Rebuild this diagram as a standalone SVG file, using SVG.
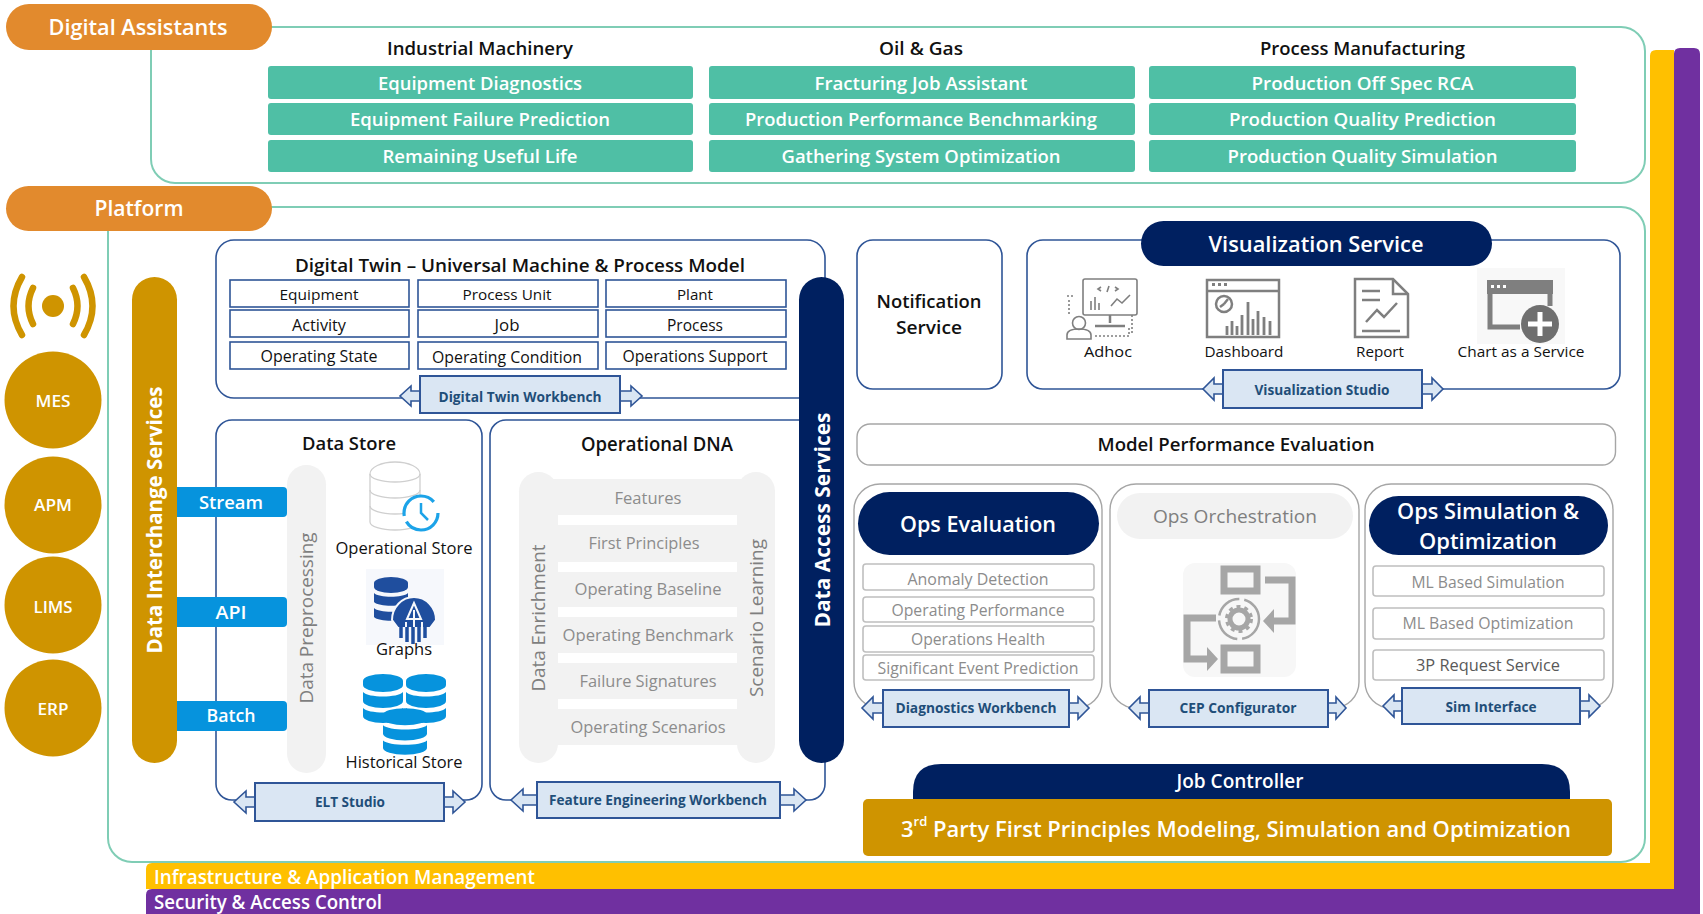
<svg xmlns="http://www.w3.org/2000/svg" width="1703" height="914" viewBox="0 0 1703 914">
<style>
text{font-family:"Open Sans","Liberation Sans",sans-serif;text-anchor:middle;dominant-baseline:central}
.w{fill:#fff}.sb{font-weight:600}.b{font-weight:700}
.k{fill:#111}.g{fill:#8c8c8c}.g2{fill:#7f7f7f}.bl{fill:#1F4E79;font-weight:700;font-size:14px}
.f{fill:#fff;stroke:#7FCDB5;stroke-width:2}
.pill{fill:#E28A2D}
.bar{fill:#4FBFA5}
.box{fill:#fff;stroke:#2F5597;stroke-width:1.6}
.cell{fill:#fff;stroke:#2F5597;stroke-width:1.6}
.gb{fill:#fff;stroke:#A6A6A6;stroke-width:1.4}
.it{fill:#fff;stroke:#BFBFBF;stroke-width:1.6}
.wb{fill:#DAE6F3;stroke:#2F5597;stroke-width:2}
.arr{fill:#DAE6F3;stroke:#2F5597;stroke-width:1.6}
.navy{fill:#002060}.gold{fill:#CF9400}.blue{fill:#0693DD}.lg{fill:#F2F2F2}
.ic{fill:none;stroke:#7F7F7F;stroke-width:2.5}
.icf{fill:#7F7F7F}
</style>
<defs>
<g id="stack"><path d="M-20-16a20 7 0 0 1 40 0v4a20 7 0 0 1-40 0z"/><path d="M-20-5c5 6 35 6 40 0v9a20 7 0 0 1-40 0z"/><path d="M-20 11c5 6 35 6 40 0v8a20 7 0 0 1-40 0z"/></g>
</defs>
<rect width="1703" height="914" fill="#fff"/>

<g id="band-infrastructure">
<path d="M146 869q0-6 6-6H1650V56q0-6 6-6h18V889H146z" fill="#FFC000"/>
<text class="w sb" x="344.500" y="877" font-size="19" textLength="381" lengthAdjust="spacingAndGlyphs">Infrastructure &amp; Application Management</text>
</g>
<g id="band-security">
<path d="M146 895q0-6 6-6H1674V54q0-6 6-6h14q6 0 6 6V914H146z" fill="#7030A0"/>
<text class="w sb" x="268" y="902" font-size="19" textLength="228" lengthAdjust="spacingAndGlyphs">Security &amp; Access Control</text>
</g>

<g id="frame-digital-assistants"><rect class="f" x="151" y="27" width="1494" height="156" rx="24"/></g>
<g id="frame-platform"><rect class="f" x="108" y="207" width="1537" height="655" rx="24"/></g>

<g id="digital-assistants"><rect class="pill" x="6" y="4" width="266" height="46" rx="23"/><text class="w sb" x="138" y="27" font-size="21" textLength="179" lengthAdjust="spacingAndGlyphs">Digital Assistants</text></g>
<g id="platform"><rect class="pill" x="6" y="186" width="266" height="45" rx="22.500"/><text class="w sb" x="139" y="208" font-size="21" textLength="89" lengthAdjust="spacingAndGlyphs">Platform</text></g>

<g id="industrial-machinery">
<text class="k sb" x="480" y="48" font-size="18" textLength="186" lengthAdjust="spacingAndGlyphs">Industrial Machinery</text>
<rect class="bar" x="268" y="66" width="425" height="33" rx="3"/><text class="w sb" x="480" y="83" font-size="18" textLength="204" lengthAdjust="spacingAndGlyphs">Equipment Diagnostics</text>
<rect class="bar" x="268" y="103" width="425" height="32" rx="3"/><text class="w sb" x="480" y="119" font-size="18" textLength="260" lengthAdjust="spacingAndGlyphs">Equipment Failure Prediction</text>
<rect class="bar" x="268" y="140" width="425" height="32" rx="3"/><text class="w sb" x="480" y="156" font-size="18" textLength="195" lengthAdjust="spacingAndGlyphs">Remaining Useful Life</text>
</g>
<g id="oil-gas">
<text class="k sb" x="921" y="48" font-size="18" textLength="84" lengthAdjust="spacingAndGlyphs">Oil &amp; Gas</text>
<rect class="bar" x="709" y="66" width="426" height="33" rx="3"/><text class="w sb" x="921" y="83" font-size="18" textLength="213" lengthAdjust="spacingAndGlyphs">Fracturing Job Assistant</text>
<rect class="bar" x="709" y="103" width="426" height="32" rx="3"/><text class="w sb" x="921" y="119" font-size="18" textLength="352" lengthAdjust="spacingAndGlyphs">Production Performance Benchmarking</text>
<rect class="bar" x="709" y="140" width="426" height="32" rx="3"/><text class="w sb" x="921" y="156" font-size="18" textLength="279" lengthAdjust="spacingAndGlyphs">Gathering System Optimization</text>
</g>
<g id="process-manufacturing">
<text class="k sb" x="1362.500" y="48" font-size="18" textLength="205" lengthAdjust="spacingAndGlyphs">Process Manufacturing</text>
<rect class="bar" x="1149" y="66" width="427" height="33" rx="3"/><text class="w sb" x="1362.500" y="83" font-size="18" textLength="222" lengthAdjust="spacingAndGlyphs">Production Off Spec RCA</text>
<rect class="bar" x="1149" y="103" width="427" height="32" rx="3"/><text class="w sb" x="1362.500" y="119" font-size="18" textLength="267" lengthAdjust="spacingAndGlyphs">Production Quality Prediction</text>
<rect class="bar" x="1149" y="140" width="427" height="32" rx="3"/><text class="w sb" x="1362.500" y="156" font-size="18" textLength="270" lengthAdjust="spacingAndGlyphs">Production Quality Simulation</text>
</g>

<g id="signal-icon" fill="none" stroke="#CF9400" stroke-width="6.500" stroke-linecap="round">
<circle cx="53" cy="306" r="11" fill="#CF9400" stroke="none"/>
<path d="M33 288q-9 18 0 36M73 288q9 18 0 36"/>
<path d="M22 277q-17 29 0 58M84 277q17 29 0 58"/>
</g>
<g id="source-mes"><circle class="gold" cx="53" cy="400" r="48.500"/><text class="w sb" x="53" y="400" font-size="17" textLength="35" lengthAdjust="spacingAndGlyphs">MES</text></g>
<g id="source-apm"><circle class="gold" cx="53" cy="505" r="48.500"/><text class="w sb" x="53" y="504" font-size="17" textLength="38" lengthAdjust="spacingAndGlyphs">APM</text></g>
<g id="source-lims"><circle class="gold" cx="53" cy="605" r="48.500"/><text class="w sb" x="53" y="606" font-size="17" textLength="39" lengthAdjust="spacingAndGlyphs">LIMS</text></g>
<g id="source-erp"><circle class="gold" cx="53" cy="708" r="48.500"/><text class="w sb" x="53" y="708" font-size="17" textLength="31" lengthAdjust="spacingAndGlyphs">ERP</text></g>

<g id="digital-twin">
<rect class="box" x="216" y="240" width="609" height="158" rx="18"/>
<text class="k sb" x="520" y="265" font-size="18" textLength="450" lengthAdjust="spacingAndGlyphs">Digital Twin – Universal Machine &amp; Process Model</text>
<rect class="cell" x="230" y="280" width="179" height="27"/><text class="k" x="319" y="294" font-size="15" textLength="79" lengthAdjust="spacingAndGlyphs">Equipment</text>
<rect class="cell" x="418" y="280" width="180" height="27"/><text class="k" x="507" y="294" font-size="15" textLength="89" lengthAdjust="spacingAndGlyphs">Process Unit</text>
<rect class="cell" x="606" y="280" width="180" height="27"/><text class="k" x="695" y="294" font-size="15" textLength="36" lengthAdjust="spacingAndGlyphs">Plant</text>
<rect class="cell" x="230" y="310" width="179" height="27"/><text class="k" x="319" y="325" font-size="16" textLength="54" lengthAdjust="spacingAndGlyphs">Activity</text>
<rect class="cell" x="418" y="310" width="180" height="27"/><text class="k" x="507" y="325" font-size="16" textLength="25" lengthAdjust="spacingAndGlyphs">Job</text>
<rect class="cell" x="606" y="310" width="180" height="27"/><text class="k" x="695" y="325" font-size="16" textLength="56" lengthAdjust="spacingAndGlyphs">Process</text>
<rect class="cell" x="230" y="342" width="179" height="27"/><text class="k" x="319" y="356" font-size="16" textLength="117" lengthAdjust="spacingAndGlyphs">Operating State</text>
<rect class="cell" x="418" y="342" width="180" height="27"/><text class="k" x="507" y="357" font-size="16" textLength="150" lengthAdjust="spacingAndGlyphs">Operating Condition</text>
<rect class="cell" x="606" y="342" width="180" height="27"/><text class="k" x="695" y="356" font-size="16" textLength="145" lengthAdjust="spacingAndGlyphs">Operations Support</text>
</g>

<g id="data-store">
<rect class="box" x="216" y="420" width="266" height="380" rx="16"/>
<text class="k sb" x="349" y="443" font-size="18" textLength="94" lengthAdjust="spacingAndGlyphs">Data Store</text>
<rect class="lg" x="287" y="465" width="39" height="308" rx="19.500"/>
<text class="g2" transform="translate(306 618) rotate(-90)" font-size="18" textLength="171" lengthAdjust="spacingAndGlyphs">Data Preprocessing</text>
<g id="icon-operational-store">
<g fill="#fff" stroke="#CFCFCF" stroke-width="1.3">
<path d="M370 474a25 12 0 0 1 50 0v48a25 8 0 0 1-50 0z"/>
<path d="M370 474a25 8 0 0 0 50 0M370 490a25 8 0 0 0 50 0M370 506a25 8 0 0 0 50 0" fill="none"/>
</g>
<circle cx="421" cy="513" r="17" fill="#fff" stroke="#1CA3E8" stroke-width="3.200" stroke-dasharray="44 6 44 13"/>
<path d="M421 503v10l7 7" fill="none" stroke="#1CA3E8" stroke-width="2.500"/>
</g>
<text class="k" x="404" y="547" font-size="17" textLength="137" lengthAdjust="spacingAndGlyphs">Operational Store</text>
<g id="icon-graphs">
<rect x="366" y="569" width="78" height="76" fill="#F6F8FC"/>
<g fill="#1F4E9E">
<path d="M374 583a17 6 0 0 1 34 0v4a17 6 0 0 1-34 0z"/><path d="M374 593c5 5 29 5 34 0v9c-5 5-29 5-34 0z"/><path d="M374 608c5 5 29 5 34 0v9c-5 5-29 5-34 0z"/>
<path d="M392 620a22 23 0 0 1 44 0l-6 8h-32z" stroke="#F6F8FC" stroke-width="2"/>
</g>
<path d="M414 603l-7 16h14zM414 610v30M406 622v20M422 622v20M398 628v10M430 628v10" stroke="#F6F8FC" stroke-width="2" fill="none"/>
<path d="M401 627v11M407 627v15M413 627v17M419 627v15M425 627v11" stroke="#1F4E9E" stroke-width="3.500" fill="none"/>
</g>
<text class="k" x="404" y="648" font-size="17" textLength="56" lengthAdjust="spacingAndGlyphs">Graphs</text>
<g id="icon-historical-store" class="blue">
<use href="#stack" transform="translate(383 697)"/>
<use href="#stack" transform="translate(426 697)"/>
<use href="#stack" transform="translate(405 730) scale(1.100 .95)"/>
</g>
<text class="k" x="404" y="762" font-size="16" textLength="117" lengthAdjust="spacingAndGlyphs">Historical Store</text>
</g>

<g id="operational-dna">
<rect class="box" x="490" y="420" width="335" height="380" rx="16"/>
<text class="k sb" x="657" y="444" font-size="19" textLength="152" lengthAdjust="spacingAndGlyphs">Operational DNA</text>
<rect class="lg" x="519" y="472" width="39" height="291" rx="19.500"/>
<rect class="lg" x="737" y="472" width="38" height="291" rx="19"/>
<rect class="lg" x="550" y="479" width="195" height="36"/>
<rect class="lg" x="550" y="525" width="195" height="37"/>
<rect class="lg" x="550" y="572" width="195" height="35"/>
<rect class="lg" x="550" y="617" width="195" height="36"/>
<rect class="lg" x="550" y="663" width="195" height="36"/>
<rect class="lg" x="550" y="709" width="195" height="36"/>
<text class="g" x="648" y="498" font-size="16" textLength="67" lengthAdjust="spacingAndGlyphs">Features</text>
<text class="g" x="644" y="543" font-size="16" textLength="111" lengthAdjust="spacingAndGlyphs">First Principles</text>
<text class="g" x="648" y="589" font-size="16" textLength="147" lengthAdjust="spacingAndGlyphs">Operating Baseline</text>
<text class="g" x="648" y="635" font-size="16" textLength="171" lengthAdjust="spacingAndGlyphs">Operating Benchmark</text>
<text class="g" x="648" y="681" font-size="16" textLength="137" lengthAdjust="spacingAndGlyphs">Failure Signatures</text>
<text class="g" x="648" y="727" font-size="16" textLength="155" lengthAdjust="spacingAndGlyphs">Operating Scenarios</text>
<text class="g2" transform="translate(538 618) rotate(-90)" font-size="18" textLength="147" lengthAdjust="spacingAndGlyphs">Data Enrichment</text>
<text class="g2" transform="translate(756 618) rotate(-90)" font-size="18" textLength="158" lengthAdjust="spacingAndGlyphs">Scenario Learning</text>
</g>

<g id="notification-service">
<rect class="box" x="857" y="240" width="145" height="149" rx="16"/>
<text class="k sb" x="929" y="301" font-size="18" textLength="105" lengthAdjust="spacingAndGlyphs">Notification</text>
<text class="k sb" x="929" y="327" font-size="18" textLength="66" lengthAdjust="spacingAndGlyphs">Service</text>
</g>

<g id="visualization-service">
<rect class="box" x="1027" y="240" width="593" height="149" rx="16"/>
<rect class="navy" x="1141" y="221" width="351" height="45" rx="22.500"/>
<text class="w sb" x="1316" y="244" font-size="21" textLength="215" lengthAdjust="spacingAndGlyphs">Visualization Service</text>
<g id="icon-adhoc" fill="none" stroke="#7F7F7F" stroke-width="1.600">
<rect x="1083" y="279" width="54" height="36" rx="2"/>
<path d="M1101 287l-3 2 3 2M1109 286l-2 6M1115 287l3 2-3 2" />
<path d="M1091 310v-9M1095 310v-13M1099 310v-7M1111 306l6-7 5 4 8-8"/>
<path d="M1110 315v8M1095 326h30" stroke-width="2.500"/>
<circle cx="1079" cy="323" r="6.500"/>
<path d="M1067 339v-4q0-6 12-6t12 6v4z"/>
<path d="M1067 296h8M1069 300v16M1095 336h34v-10M1132 315v20" stroke-dasharray="2 2"/>
</g>
<text class="k" x="1108" y="351" font-size="15" textLength="48" lengthAdjust="spacingAndGlyphs">Adhoc</text>
<g id="icon-dashboard">
<rect class="ic" x="1207" y="280" width="72" height="57"/>
<path class="ic" d="M1207 291h72"/>
<path class="icf" d="M1212 283h3v3h-3zM1218 283h3v3h-3zM1224 283h3v3h-3z"/>
<circle class="ic" cx="1224" cy="304" r="8"/>
<path class="ic" d="M1224 304l4-5M1224 304l-4 3"/>
<path d="M1227 335v-9M1232 335v-14M1237 335v-9M1242 335v-20M1248 335v-33M1253 335v-16M1258 335v-24M1264 335v-18M1270 335v-14" stroke="#7F7F7F" stroke-width="2.800" fill="none"/>
</g>
<text class="k" x="1244" y="351" font-size="15" textLength="79" lengthAdjust="spacingAndGlyphs">Dashboard</text>
<g id="icon-report">
<path class="ic" d="M1355 279h38l15 15v43h-53z"/>
<path class="ic" d="M1393 279v15h15M1362 291h18M1362 300h18M1362 331h38"/>
<path class="ic" d="M1366 322l11-12 7 7 13-14"/>
</g>
<text class="k" x="1380" y="351" font-size="15" textLength="48" lengthAdjust="spacingAndGlyphs">Report</text>
<g id="icon-chart-service">
<rect x="1477" y="268" width="88" height="76" fill="#F8F8F8"/>
<path fill="#7F7F7F" d="M1487 280h66v14h-66z"/>
<path d="M1490 294v33h30M1550 294v12" fill="none" stroke="#7F7F7F" stroke-width="5"/>
<path fill="#fff" d="M1491 285h3v3h-3zM1497 285h3v3h-3zM1503 285h3v3h-3z"/>
<circle cx="1540" cy="324" r="19" fill="#6F6F6F"/>
<path d="M1540 312v24M1528 324h24" stroke="#fff" stroke-width="5"/>
</g>
<text class="k" x="1521" y="351" font-size="15" textLength="127" lengthAdjust="spacingAndGlyphs">Chart as a Service</text>
</g>

<g id="model-performance-evaluation">
<rect class="gb" x="857" y="424" width="758.500" height="41" rx="13"/>
<text class="k sb" x="1236" y="444" font-size="18" textLength="277" lengthAdjust="spacingAndGlyphs">Model Performance Evaluation</text>
</g>

<g id="ops-evaluation">
<rect class="gb" x="854" y="484" width="248" height="224" rx="26"/>
<rect class="navy" x="858" y="492" width="241" height="63" rx="31.500"/>
<text class="w sb" x="978" y="524" font-size="21" textLength="156" lengthAdjust="spacingAndGlyphs">Ops Evaluation</text>
<rect class="it" x="863" y="564" width="231" height="26" rx="3"/><text class="g" x="978" y="579" font-size="16" textLength="141" lengthAdjust="spacingAndGlyphs">Anomaly Detection</text>
<rect class="it" x="863" y="597" width="231" height="25" rx="3"/><text class="g" x="978" y="610" font-size="16" textLength="173" lengthAdjust="spacingAndGlyphs">Operating Performance</text>
<rect class="it" x="863" y="626" width="231" height="26" rx="3"/><text class="g" x="978" y="639" font-size="16" textLength="134" lengthAdjust="spacingAndGlyphs">Operations Health</text>
<rect class="it" x="863" y="655" width="231" height="25" rx="3"/><text class="g" x="978" y="668" font-size="16" textLength="201" lengthAdjust="spacingAndGlyphs">Significant Event Prediction</text>
</g>

<g id="ops-orchestration">
<rect class="gb" x="1110" y="484" width="249" height="224" rx="26"/>
<rect class="lg" x="1117" y="493" width="236" height="46" rx="23"/>
<text class="g2" x="1235" y="516" font-size="19" textLength="164" lengthAdjust="spacingAndGlyphs">Ops Orchestration</text>
<g id="icon-orchestration">
<rect x="1183" y="563" width="113" height="114" rx="12" fill="#F7F7F7"/>
<g fill="none" stroke="#A6A6A6" stroke-width="7">
<rect x="1224" y="569" width="33" height="22"/>
<rect x="1224" y="648" width="33" height="22"/>
<path d="M1265 580h27v41h-20"/>
<path d="M1216 618h-29v41h23"/>
</g>
<path d="M1263 621l11-12v24zM1218 659l-11-12v24z" fill="#A6A6A6"/>
<circle cx="1239" cy="619" r="20" fill="none" stroke="#A6A6A6" stroke-width="2.500" stroke-dasharray="28 5"/>
<circle cx="1239" cy="619" r="9" fill="none" stroke="#A6A6A6" stroke-width="5"/>
<circle cx="1239" cy="619" r="12.500" fill="none" stroke="#A6A6A6" stroke-width="3" stroke-dasharray="4 4"/>
</g>
</g>

<g id="ops-simulation">
<rect class="gb" x="1365" y="484" width="248" height="224" rx="26"/>
<rect class="navy" x="1369" y="496" width="239" height="59" rx="29.500"/>
<text class="w sb" x="1488" y="511" font-size="21" textLength="182" lengthAdjust="spacingAndGlyphs">Ops Simulation &amp;</text>
<text class="w sb" x="1488" y="541" font-size="21" textLength="138" lengthAdjust="spacingAndGlyphs">Optimization</text>
<rect class="it" x="1373" y="566" width="231" height="30" rx="3"/><text class="g" x="1488" y="582" font-size="16" textLength="153" lengthAdjust="spacingAndGlyphs">ML Based Simulation</text>
<rect class="it" x="1373" y="608" width="231" height="31" rx="3"/><text class="g" x="1488" y="623" font-size="16" textLength="171" lengthAdjust="spacingAndGlyphs">ML Based Optimization</text>
<rect class="it" x="1373" y="650" width="231" height="30" rx="3"/><text x="1488" y="665" font-size="16" fill="#595959" textLength="144" lengthAdjust="spacingAndGlyphs">3P Request Service</text>
</g>

<g id="connectors">
<polygon class="arr" points="420,391 411,391 411,386 400,396 411,406 411,401 420,401"/>
<polygon class="arr" points="620,391 631,391 631,386 642,396 631,406 631,401 620,401"/>
<polygon class="arr" points="255,797 246,797 246,791 234,802 246,813 246,807 255,807"/>
<polygon class="arr" points="444,797 453,797 453,791 465,802 453,813 453,807 444,807"/>
<polygon class="arr" points="537,795 523,795 523,789 511,800 523,811 523,805 537,805"/>
<polygon class="arr" points="780,795 794,795 794,789 806,800 794,811 794,805 780,805"/>
<polygon class="arr" points="1223,384 1214,384 1214,378 1203,389 1214,400 1214,394 1223,394"/>
<polygon class="arr" points="1422,384 1432,384 1432,378 1443,389 1432,400 1432,394 1422,394"/>
<polygon class="arr" points="883,703 873,703 873,697 862,708 873,719 873,713 883,713"/>
<polygon class="arr" points="1069,703 1078,703 1078,697 1089,708 1078,719 1078,713 1069,713"/>
<polygon class="arr" points="1149,703 1140,703 1140,697 1129,708 1140,719 1140,713 1149,713"/>
<polygon class="arr" points="1328,703 1336,703 1336,697 1346,708 1336,719 1336,713 1328,713"/>
<polygon class="arr" points="1402,701 1394,701 1394,695 1383,706 1394,717 1394,711 1402,711"/>
<polygon class="arr" points="1580,701 1589,701 1589,695 1600,706 1589,717 1589,711 1580,711"/>
</g>

<g id="digital-twin-workbench"><rect class="wb" x="420" y="376" width="200" height="37"/><text class="bl" x="520" y="396" textLength="163" lengthAdjust="spacingAndGlyphs">Digital Twin Workbench</text></g>
<g id="elt-studio"><rect class="wb" x="255" y="783" width="189" height="38"/><text class="bl" x="350" y="801" textLength="70" lengthAdjust="spacingAndGlyphs">ELT Studio</text></g>
<g id="feature-engineering-workbench"><rect class="wb" x="537" y="782" width="243" height="36"/><text class="bl" x="658" y="799" textLength="218" lengthAdjust="spacingAndGlyphs">Feature Engineering Workbench</text></g>
<g id="visualization-studio"><rect class="wb" x="1223" y="370" width="199" height="38"/><text class="bl" x="1322" y="389" textLength="135" lengthAdjust="spacingAndGlyphs">Visualization Studio</text></g>
<g id="diagnostics-workbench"><rect class="wb" x="883" y="690" width="186" height="37"/><text class="bl" x="976" y="707" textLength="161" lengthAdjust="spacingAndGlyphs">Diagnostics Workbench</text></g>
<g id="cep-configurator"><rect class="wb" x="1149" y="690" width="179" height="37"/><text class="bl" x="1238" y="707" textLength="117" lengthAdjust="spacingAndGlyphs">CEP Configurator</text></g>
<g id="sim-interface"><rect class="wb" x="1402" y="688" width="178" height="36"/><text class="bl" x="1491" y="706" textLength="91" lengthAdjust="spacingAndGlyphs">Sim Interface</text></g>

<g id="data-interchange-services">
<rect class="gold" x="132" y="277" width="45" height="486" rx="22.500"/>
<text class="w b" transform="translate(154 520) rotate(-90)" font-size="21" textLength="267" lengthAdjust="spacingAndGlyphs">Data Interchange Services</text>
</g>
<g id="data-access-services">
<rect class="navy" x="799" y="277" width="45" height="486" rx="22.500"/>
<text class="w b" transform="translate(822 520) rotate(-90)" font-size="21" textLength="215" lengthAdjust="spacingAndGlyphs">Data Access Services</text>
</g>
<g id="stream"><path class="blue" d="M177 487h106q4 0 4 4v22q0 4-4 4H177z"/><text class="w sb" x="231" y="502" font-size="18" textLength="64" lengthAdjust="spacingAndGlyphs">Stream</text></g>
<g id="api"><path class="blue" d="M177 597h106q4 0 4 4v22q0 4-4 4H177z"/><text class="w sb" x="231" y="612" font-size="18" textLength="31" lengthAdjust="spacingAndGlyphs">API</text></g>
<g id="batch"><path class="blue" d="M177 701h106q4 0 4 4v22q0 4-4 4H177z"/><text class="w sb" x="231" y="715" font-size="18" textLength="49" lengthAdjust="spacingAndGlyphs">Batch</text></g>

<g id="job-controller">
<path class="navy" d="M913 800v-8q0-28 28-28H1542q28 0 28 28v8z"/>
<text class="w sb" x="1240" y="781" font-size="19" textLength="127" lengthAdjust="spacingAndGlyphs">Job Controller</text>
</g>
<g id="third-party">
<rect class="gold" x="863" y="799" width="749" height="57" rx="5"/>
<text class="w sb" x="1236" y="828" font-size="22" textLength="670" lengthAdjust="spacingAndGlyphs">3<tspan font-size="13" dy="-7">rd</tspan><tspan dy="7"> Party First Principles Modeling, Simulation and Optimization</tspan></text>
</g>
</svg>
